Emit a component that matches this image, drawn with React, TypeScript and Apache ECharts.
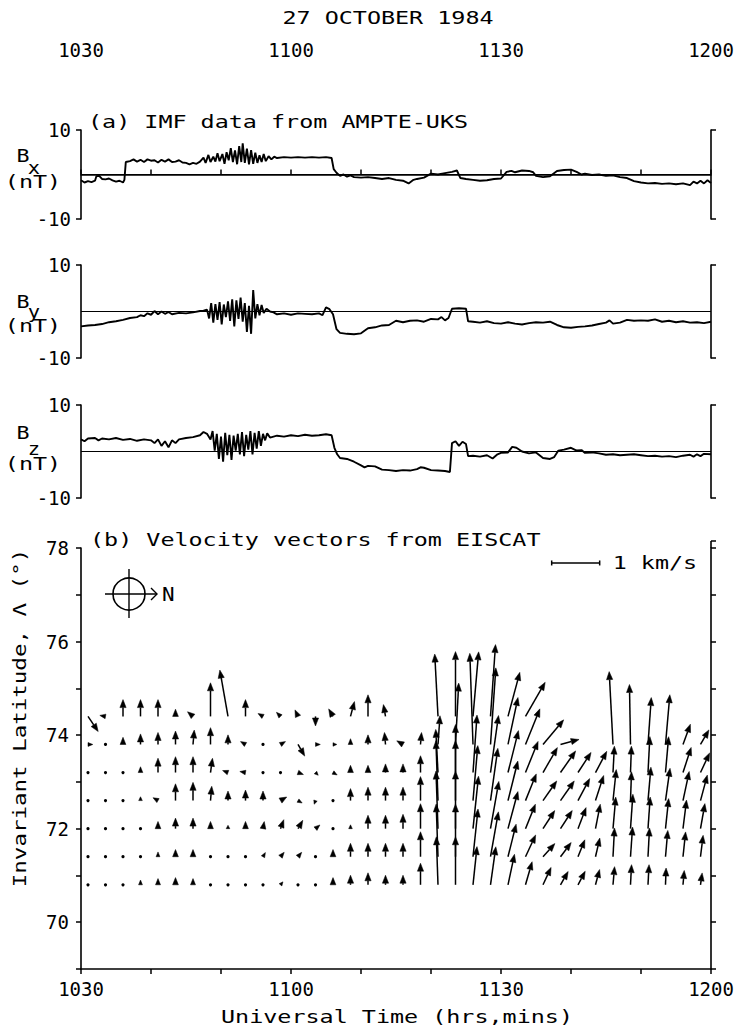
import React, { useEffect, useRef } from "react";
import * as echarts from "echarts";

// ---------- DATA ----------
// time axis: minutes after 10:30 UT
const TIME_LABELS = [0, 30, 60, 90];

const BX: [number, number][] = [
  [0,-1.3],[0.5,-1.8],[1,-1.5],[1.5,-1.7],[2,-1.4],[2.2,-0.4],[2.6,-0.3],[3,-1.0],[3.5,-1.1],[4,-0.9],[4.5,-1.3],[5,-1.6],[5.5,-1.4],[6,-1.8],[6.2,-1.2],[6.4,2.8],
  [7,3.0],[7.5,3.4],[8,2.9],[8.5,3.3],[9,2.8],[9.5,3.4],[10,3.1],[10.5,3.2],[11,2.7],[11.5,3.3],[12,2.9],[12.5,3.4],[13,2.8],[13.5,2.9],[14,3.2],[14.5,2.7],[15,2.6],[15.5,2.3],[16,2.6],[16.5,2.4],[17,2.9],
  [17.5,3.8],[17.8,2.6],[18.2,4.4],[18.5,2.8],[18.9,4.0],[19.2,2.9],[19.5,4.8],[19.8,3.0],[20.2,4.6],[20.5,2.4],[20.8,5.0],[21.1,3.2],[21.4,5.9],[21.7,2.8],[22,5.4],[22.3,2.3],[22.6,6.4],[22.9,2.8],[23.1,7.0],[23.4,2.6],[23.7,5.8],[24,2.3],[24.3,5.5],[24.6,2.4],[24.9,4.9],[25.2,2.6],[25.5,4.3],[25.8,2.8],[26.1,4.6],[26.4,3.0],[26.8,4.1],[27.2,3.4],[27.6,4.0],
  [28,3.7],[29,3.9],[30,3.8],[31,3.9],[32,3.8],[33,3.9],[34,3.8],[35,3.9],[35.8,3.7],[36.1,1.2],[36.5,0.4],[37,-0.3],[37.5,0],[38,-0.5],[38.5,-0.2],[39,-0.6],[40,-0.7],[41,-0.6],[42,-0.8],[43,-1.0],[44,-0.8],[45,-1.2],[46,-1.4],[46.8,-2.0],[47.5,-1.2],[48,-1.0],[49,-0.7],
  [50,0.2],[51,0],[52,0.3],[53,0.6],[53.7,0.9],[54.2,-0.8],[55,-1.0],[56,-1.2],[57,-1.4],[58,-1.3],[59,-1.0],[60,-0.9],[60.8,0.6],[61.5,0.8],[62,0.5],[63,0.9],[64,0.8],[64.6,0.5],[65,-0.3],[66,-0.6],[67,-0.4],[68,0.8],[69,1.0],[70,1.1],[70.8,0.6],[71.5,0],[72,0.2],[73,-0.1],[74,0],[75,-0.3],[76,-0.2],[77,-0.6],[78,-0.8],
  [79,-1.5],[80,-1.8],[81,-2.0],[82,-1.9],[83,-2.1],[84,-2.0],[85,-2.2],[86,-2.0],[87,-2.4],[87.5,-1.6],[88,-2.0],[88.5,-1.4],[89,-2.0],[89.5,-1.3],[90,-1.9]
];

const BY: [number, number][] = [
  [0,-3.2],[1,-3.0],[2,-2.9],[3,-2.7],[4,-2.3],[5,-2.1],[6,-1.8],[7,-1.4],[8,-1.2],[8.5,-0.8],[9,-1.0],[9.5,-0.4],[10,-0.7],[10.5,0.1],[11,-0.6],[11.5,0],[12,-0.5],[12.5,-0.1],[13,-0.6],[14,-0.3],[15,-0.4],[16,-0.2],[17,0.1],[17.5,0.2],[18,0.4],
  [18.3,-1.5],[18.6,1.8],[18.9,-2.4],[19.2,1.6],[19.5,-1.8],[19.8,2.0],[20.1,-2.8],[20.4,1.5],[20.7,-1.2],[21,2.2],[21.3,-2.0],[21.6,2.6],[21.9,-3.2],[22.2,2.4],[22.5,-1.6],[22.8,3.0],[23.1,-2.2],[23.4,1.8],[23.7,-4.4],[24,1.2],[24.3,-4.8],[24.6,4.6],[24.9,-1.5],[25.2,1.6],[25.5,-0.8],[25.8,1.4],[26.1,-0.3],[26.5,0.6],
  [27,0],[27.5,-0.2],[28,-0.6],[29,-0.4],[30,-0.7],[31,-0.4],[32,-0.5],[33,-0.6],[34,-0.4],[34.5,-0.8],[35,0.9],[35.5,0.5],[36,-0.6],[36.5,-3.8],[37,-4.6],[38,-4.8],[39,-4.9],[40,-4.7],[41,-3.6],[42,-3.4],[43,-3.0],[44,-2.9],[45,-2.0],[46,-2.3],[47,-2.0],[48,-1.9],[49,-2.2],[50,-1.6],[51,-1.7],[51.5,-1.2],[52,-1.9],[52.5,-1.4],
  [53,0.6],[54,0.7],[55,0.6],[55.3,-2.1],[56,-2.2],[57,-2.4],[58,-2.1],[59,-2.5],[60,-2.6],[61,-2.3],[62,-2.6],[63,-2.8],[64,-2.5],[65,-2.3],[66,-2.4],[67,-2.2],[68,-2.9],[69,-3.4],[70,-3.5],[71,-3.3],[72,-3.2],[73,-3.0],[74,-2.7],[75,-2.4],[75.5,-1.9],[76,-2.6],[77,-2.4],
  [78,-1.8],[79,-2.0],[80,-1.9],[81,-2.0],[82,-1.7],[83,-2.2],[84,-2.0],[85,-2.3],[86,-2.1],[87,-2.4],[88,-2.3],[89,-2.5],[90,-2.2]
];

const BZ: [number, number][] = [
  [0,2.6],[0.5,2.2],[1,2.8],[2,2.9],[2.5,2.4],[3,2.8],[4,2.6],[5,2.9],[6,2.5],[7,2.7],[8,2.3],[9,2.6],[10,2.4],[10.5,1.8],[11,2.6],[11.5,1.2],[12,2.2],[12.5,0.9],[13,2.4],[13.5,1.8],[14,2.6],[15,2.9],[16,3.1],[17,3.5],[17.5,4.2],[18,3.8],[18.5,2.6],
  [18.8,4.4],[19.1,0.2],[19.4,3.8],[19.7,-1.6],[20,3.2],[20.3,-2.2],[20.6,4.0],[20.9,-0.8],[21.2,3.6],[21.5,-1.8],[21.8,3.4],[22.1,0.2],[22.4,3.8],[22.7,-0.6],[23,4.2],[23.3,-1.0],[23.6,3.6],[23.9,0.4],[24.2,4.4],[24.5,-0.6],[24.8,4.0],[25.1,0.6],[25.4,4.4],[25.7,1.2],[26,3.8],[26.3,2.4],[26.6,3.9],
  [27,3.0],[28,3.4],[29,3.2],[30,3.5],[31,3.3],[32,3.6],[33,3.4],[34,3.5],[35,3.7],[35.8,3.5],[36.2,0.8],[36.6,-0.6],[37,-1.4],[38,-1.6],[39,-2.2],[40,-3.0],[40.5,-3.4],[41,-3.1],[42,-3.2],[43,-3.9],[44,-4.0],[45,-4.2],[46,-4.0],[47,-4.1],[48,-3.8],[48.5,-3.4],[49,-3.5],[50,-4.0],[51,-4.1],[52,-4.2],[52.7,-4.4],
  [53,1.8],[53.5,2.2],[54,1.2],[54.5,2.1],[55,1.6],[55.3,-1.0],[56,-0.9],[57,-1.1],[58,-0.8],[58.8,-1.5],[59.5,-0.6],[60,-0.3],[61,-0.2],[61.6,1.0],[62.2,0.8],[63,0],[64,-0.4],[65,-0.2],[66,-1.4],[67,-1.6],[67.6,-1.2],[68.2,0.2],[69,0.4],[70,0.8],[70.8,0.2],[71.5,0.3],
  [72,-0.3],[73,-0.2],[74,-0.4],[75,-0.7],[76,-0.6],[77,-0.8],[78,-0.7],[79,-0.6],[80,-0.8],[81,-1.0],[82,-0.9],[83,-1.1],[84,-1.0],[85,-1.2],[86,-0.9],[87,-0.7],[87.5,-1.1],[88,-0.6],[88.5,-1.0],[89,-0.5],[90,-0.6]
];

// EISCAT velocity vectors: column times (min after 1030), row latitudes (deg)
const VEC_TIMES = [1,3.5,6,8.5,11,13.5,16,18.5,21,23.5,26,28.5,31,33.5,36,38.5,41,43.5,46,48.5,51,53.5,56,58.5,61,63.5,66,68.5,71,73.5,76,78.5,81,83.5,86,88.5];
const VEC_LATS = [74.4, 73.8, 73.2, 72.6, 72.0, 71.4, 70.8];
type V = [number, number] | null; // [speed km/s, direction deg clockwise from up]
const V_744: V[] = [[0.38,146],[0.12,-80],[0.35,0],[0.35,0],[0.35,0],[0.15,0],[0.15,-50],[0.7,0],[0.98,-10],[0.35,0],[0.12,-60],[0.12,-45],[0.15,-25],[0.2,180],[0.18,-30],[0.32,15],[0.45,0],[0.25,-10],null,null,[1.3,-3],[1.35,0],[1.35,5],[1.5,4],[0.95,15],[0.82,30],null,null,null,null,null,null,null,null,null,null];
const V_738: V[] = [[0.1,90],[0.04,0],[0.15,0],[0.22,0],[0.25,0],[0.28,0],[0.3,5],[0.35,0],[0.2,0],[0.12,-60],[0.05,0],[0.12,60],[0.28,150],[0.1,90],[0.08,90],[0.12,0],[0.2,0],[0.25,-5],[0.15,-60],[0.25,5],[0.6,4],[1.28,3],[1.9,-2],[1.6,4],[1.0,12],[0.8,22],[0.67,40],[0.4,75],null,null,[1.52,-3],[1.25,-1],[0.98,4],[1.04,5],[0.45,20],[0.35,30]];
const V_732: V[] = [[0.04,0],[0.04,0],[0.04,0],[0.12,0],[0.3,0],[0.33,0],[0.33,0],[0.3,8],[0.12,-70],[0.12,-80],[0.05,-90],[0.05,0],[0.12,110],[0.08,135],[0.1,120],[0.15,0],[0.15,0],[0.18,0],[0.18,0],[0.35,0],[0.9,-3],[1.0,0],[1.2,4],[1.2,8],[0.9,14],[0.7,22],[0.6,30],[0.55,35],[0.5,33],[0.5,28],[0.55,3],[0.55,2],[0.75,3],[0.75,5],[0.55,18],[0.45,25]];
const V_726: V[] = [[0.04,0],[0.04,0],[0.06,-30],[0.08,0],[0.12,-60],[0.35,0],[0.38,0],[0.3,5],[0.2,0],[0.22,0],[0.2,0],[0.15,60],[0.1,120],[0.08,200],[0.05,0],[0.25,0],[0.28,0],[0.28,0],[0.28,0],[0.5,0],[1.25,-2],[1.25,0],[1.15,5],[1.1,8],[0.85,14],[0.6,22],[0.5,35],[0.5,35],[0.52,28],[0.55,18],[0.65,6],[0.6,2],[0.7,5],[0.68,8],[0.62,12],[0.55,15]];
const V_720: V[] = [[0.04,0],[0.04,0],[0.04,0],[0.06,0],[0.15,0],[0.22,0],[0.22,0],[0.15,0],[0.07,0],[0.15,0],[0.15,10],[0.2,20],[0.2,30],[0.12,50],[0.06,90],[0.08,0],[0.28,0],[0.28,0],[0.3,0],[0.52,0],[1.2,-2],[1.2,0],[1.1,6],[1.0,10],[0.8,15],[0.55,22],[0.45,33],[0.45,33],[0.47,21],[0.52,11],[0.66,5],[0.72,4],[0.66,4],[0.63,6],[0.6,7],[0.53,10]];
const V_714: V[] = [[0.04,0],[0.04,0],[0.04,0],[0.05,0],[0.1,0],[0.15,0],[0.15,0],[0.06,0],[0.06,0],[0.06,0],[0.1,30],[0.12,40],[0.12,40],[0.05,0],[0.15,0],[0.28,0],[0.28,0],[0.28,0],[0.28,0],[0.52,0],[1.1,-2],[1.1,0],[1.0,6],[0.95,10],[0.7,14],[0.5,25],[0.37,42],[0.37,37],[0.38,22],[0.4,13],[0.6,3],[0.62,4],[0.6,3],[0.55,5],[0.52,6],[0.45,7]];
const V_708: V[] = [[0.04,0],[0.04,0],[0.04,0],[0.1,0],[0.13,0],[0.15,0],[0.13,0],[0.06,0],[0.05,0],[0.05,0],[0.05,0],[0.08,40],[0.05,0],[0.06,60],[0.15,0],[0.2,0],[0.25,0],[0.2,0],[0.2,0],[0.45,0],[1.0,-2],[1.0,0],[0.8,6],[0.8,8],[0.65,12],[0.5,16],[0.4,25],[0.32,30],[0.32,28],[0.33,15],[0.38,5],[0.42,3],[0.42,3],[0.35,2],[0.3,5],[0.25,8]];
const VEC_ROWS = [V_744, V_738, V_732, V_726, V_720, V_714, V_708];

// reference vector (1 km/s) placed at [time, latitude]
const SCALE_REF: [number, number, number] = [67.24, 77.68, 1];
const KMS_DEG = 1.026; // latitude-degrees of plot length representing 1 km/s

// ---------- helpers ----------
const FONT = '"DejaVu Sans Mono", monospace';
const fmtTime = (m: number) => {
  const tot = 630 + m;
  const h = Math.floor(tot / 60);
  const mm = tot % 60;
  return `${h}${String(mm).padStart(2, "0")}`;
};

export default function App() {
  const ref = useRef<HTMLDivElement>(null);
  useEffect(() => {
    if (!ref.current) return;
    const chart = echarts.init(ref.current, null, { renderer: "svg" });

    const vecData: number[][] = [];
    VEC_ROWS.forEach((row, ri) => {
      row.forEach((v, ci) => {
        if (v) vecData.push([VEC_TIMES[ci], VEC_LATS[ri], v[0], v[1]]);
      });
    });

    const L = 81, W = 630;
    const grids = [
      { left: L, width: W, top: 130, height: 89 },
      { left: L, width: W, top: 265, height: 93 },
      { left: L, width: W, top: 405, height: 93 },
      { left: L, width: W, top: 548, height: 421 },
    ];
    const axLine = { show: true, lineStyle: { color: "#000", width: 1.6 } };
    const tick = { show: true, length: 5, inside: false, lineStyle: { color: "#000", width: 1.5 } };
    const lbl = { color: "#000", fontFamily: FONT, fontSize: 19 };

    const imfY = (g: number, pos: "left" | "right") => ({
      type: "value", gridIndex: g, position: pos, min: -10, max: 10, interval: 20,
      axisLine: axLine, axisTick: tick,
      axisLabel: pos === "left" ? { ...lbl, margin: 10 } : { show: false },
      splitLine: { show: false },
    });

    const imfSeries = (data: [number, number][], idx: number) => ({
      type: "line", xAxisIndex: idx, yAxisIndex: idx * 2, data, showSymbol: false, symbol: "none",
      lineStyle: { color: "#000", width: 1.9 }, z: 3,
      markLine: {
        silent: true, symbol: ["none", "none"], label: { show: false },
        lineStyle: { color: "#000", width: 1.1, type: "solid" }, data: [{ yAxis: 0 }],
      },
    });

    const txt = (text: string, x: number, y: number, opts: any = {}) => ({
      type: "text", x, y, scaleX: opts.scaleX ?? 1.3, rotation: opts.rotation ?? 0,
      style: {
        text, fill: "#000", fontFamily: FONT, fontSize: opts.fontSize ?? 18,
        align: opts.align ?? "left", verticalAlign: "middle",
      },
    });

    const option: any = {
      animation: false,
      backgroundColor: "#fff",
      textStyle: { fontFamily: FONT },
      grid: grids,
      xAxis: [
        {
          type: "value", gridIndex: 0, position: "top", offset: 23, min: 0, max: 90, interval: 10,
          axisLine: axLine, axisTick: tick,
          axisLabel: { ...lbl, margin: 48, formatter: (v: number) => (TIME_LABELS.includes(v) ? fmtTime(v) : "") },
          splitLine: { show: false },
        },
        { type: "value", gridIndex: 1, min: 0, max: 90, show: false },
        { type: "value", gridIndex: 2, min: 0, max: 90, show: false },
        {
          type: "value", gridIndex: 3, position: "bottom", min: 0, max: 90, interval: 10,
          axisLine: axLine, axisTick: tick,
          axisLabel: { ...lbl, margin: 10, formatter: (v: number) => (TIME_LABELS.includes(v) ? fmtTime(v) : "") },
          splitLine: { show: false },
        },
      ],
      yAxis: [
        imfY(0, "left"), imfY(0, "right"),
        imfY(1, "left"), imfY(1, "right"),
        imfY(2, "left"), imfY(2, "right"),
        {
          type: "value", gridIndex: 3, position: "left", min: 69, max: 78, interval: 1,
          axisLine: axLine, axisTick: tick,
          axisLabel: { ...lbl, margin: 12, formatter: (v: number) => (v % 2 === 0 ? String(v) : "") },
          splitLine: { show: false },
        },
        {
          type: "value", gridIndex: 3, position: "right", min: 69, max: 78, interval: 1,
          axisLine: axLine, axisTick: tick,
          axisLabel: { show: false }, splitLine: { show: false },
        },
      ],
      series: [
        imfSeries(BX, 0),
        imfSeries(BY, 1),
        imfSeries(BZ, 2),
        {
          type: "custom", xAxisIndex: 3, yAxisIndex: 6, data: vecData, encode: { x: 0, y: 1 },
          clip: false,
          renderItem: (_p: any, api: any) => {
            const t = api.value(0), lat = api.value(1), sp = api.value(2), ang = api.value(3);
            const base = api.coord([t, lat]);
            const pxk = api.size([0, KMS_DEG])[1];
            const len = sp * pxk;
            if (len < 3) {
              return { type: "circle", shape: { cx: base[0], cy: base[1], r: 1.6 }, style: { fill: "#000" } };
            }
            const a = (ang * Math.PI) / 180;
            const ux = Math.sin(a), uy = -Math.cos(a);
            const tip = [base[0] + ux * len, base[1] + uy * len];
            const hl = Math.min(8, len);
            const hw = len < 8 ? Math.max(1.8, len * 0.4) : 3.1;
            const hb = [tip[0] - ux * hl, tip[1] - uy * hl];
            const px = -uy, py = ux;
            const head = {
              type: "polygon",
              shape: { points: [tip, [hb[0] + px * hw, hb[1] + py * hw], [hb[0] - px * hw, hb[1] - py * hw]] },
              style: { fill: "#000", stroke: "#000", lineWidth: 0.5 },
            };
            if (len <= 8) return head;
            return {
              type: "group",
              children: [
                { type: "line", shape: { x1: base[0], y1: base[1], x2: hb[0], y2: hb[1] }, style: { stroke: "#000", lineWidth: 1.5 } },
                head,
              ],
            };
          },
        },
        {
          type: "custom", xAxisIndex: 3, yAxisIndex: 6, data: [SCALE_REF], encode: { x: 0, y: 1 },
          renderItem: (_p: any, api: any) => {
            const p = api.coord([api.value(0), api.value(1)]);
            const len = api.value(2) * api.size([0, KMS_DEG])[1];
            const s = { stroke: "#000", lineWidth: 1.5 };
            return {
              type: "group",
              children: [
                { type: "line", shape: { x1: p[0], y1: p[1], x2: p[0] + len, y2: p[1] }, style: s },
                { type: "line", shape: { x1: p[0], y1: p[1] - 2.5, x2: p[0], y2: p[1] + 2.5 }, style: s },
                { type: "line", shape: { x1: p[0] + len, y1: p[1] - 2.5, x2: p[0] + len, y2: p[1] + 2.5 }, style: s },
                {
                  type: "text", x: p[0] + len + 13, y: p[1], scaleX: 1.3,
                  style: { text: "1 km/s", fill: "#000", fontFamily: FONT, fontSize: 18, align: "left", verticalAlign: "middle" },
                },
              ],
            };
          },
        },
      ],
      graphic: [
        txt("27 OCTOBER 1984", 388, 18, { align: "center" }),
        txt("(a) IMF data from AMPTE-UKS", 88, 122),
        txt("(b) Velocity vectors from EISCAT", 90, 540),
        txt("Universal Time (hrs,mins)", 397, 1017, { align: "center" }),
        txt("Invariant Latitude, \u039B (\u00B0)", 20, 718, { align: "center", rotation: Math.PI / 2, scaleX: 1.25 }),
        txt("B", 23, 156, { align: "center", scaleX: 1.2 }),
        txt("x", 34, 168, { align: "center", scaleX: 1.2, fontSize: 17 }),
        txt("(nT)", 33, 182, { align: "center" }),
        txt("B", 23, 302, { align: "center", scaleX: 1.2 }),
        txt("y", 34, 312, { align: "center", scaleX: 1.2, fontSize: 17 }),
        txt("(nT)", 33, 326, { align: "center" }),
        txt("B", 23, 433, { align: "center", scaleX: 1.2 }),
        txt("z", 34, 449, { align: "center", scaleX: 1.2, fontSize: 17 }),
        txt("(nT)", 33, 464, { align: "center" }),
        {
          type: "group",
          children: [
            { type: "line", shape: { x1: 711, y1: 541, x2: 711, y2: 548 }, style: { stroke: "#000", lineWidth: 1.6 } },
            { type: "line", shape: { x1: 711, y1: 541, x2: 716, y2: 541 }, style: { stroke: "#000", lineWidth: 1.5 } },
            { type: "circle", shape: { cx: 129, cy: 594, r: 16 }, style: { fill: "none", stroke: "#000", lineWidth: 1.6 } },
            { type: "line", shape: { x1: 105, y1: 594, x2: 157, y2: 594 }, style: { stroke: "#000", lineWidth: 1.4 } },
            { type: "line", shape: { x1: 129, y1: 569, x2: 129, y2: 618 }, style: { stroke: "#000", lineWidth: 1.4 } },
            { type: "polyline", shape: { points: [[151, 588], [157, 594], [151, 600]] }, style: { fill: "none", stroke: "#000", lineWidth: 1.4 } },
          ],
        },
        txt("N", 162, 594, { scaleX: 1.1, fontSize: 19 }),
      ],
    };
    chart.setOption(option);
    return () => chart.dispose();
  }, []);
  return <div ref={ref} style={{ position: "absolute", left: 0, top: 0, width: 741, height: 1030, background: "#fff" }} />;
}
